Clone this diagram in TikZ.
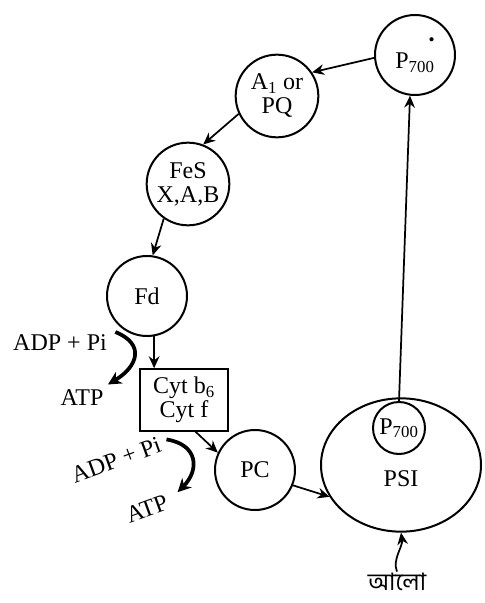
\documentclass[tikz,border=0pt]{standalone}
\usepackage{fontspec}
\setmainfont{Liberation Serif}
\newfontfamily\bengalifont[Script=Bengali]{Hind Siliguri}
\usetikzlibrary{shapes.geometric, arrows.meta, positioning, calc}

\begin{document}
\begin{tikzpicture}[
      x=0.75pt, y=-0.75pt,
      font=\fontsize{18}{18}\selectfont,
      carrier/.style={circle, draw, line width=1.5pt, minimum size=62pt, inner sep=0pt, align=center},
      cytbox/.style={rectangle, draw, line width=1.5pt, minimum width=66pt, minimum height=46pt, inner sep=1pt, align=center},
      photo/.style={ellipse, draw, line width=1.5pt, minimum width=120pt, minimum height=100pt},
      label/.style={inner sep=1pt},
      arrow/.style={-{Stealth[length=9pt, width=8pt]}, line width=1.3pt},
      atparrow/.style={-{Stealth[length=10pt, width=10pt]}, line width=2.8pt}
    ]
    \useasboundingbox (0,0) rectangle (485,603);

    \node[carrier, minimum size=60pt] (p700s) at (415,55) {P\textsubscript{700}\llap{\raisebox{2.1ex}{\fontsize{13}{13}\selectfont\textbullet}}};
    \node[carrier] (aq) at (277,96) {A\textsubscript{1} or\\PQ};
    \node[carrier] (fes) at (188,184) {FeS\\X,A,B};
    \node[carrier, minimum size=60pt] (fd) at (147,296) {Fd};
    \node[cytbox] (cyt) at (184,400) {Cyt b\textsubscript{6}\\Cyt f};
    \node[carrier, minimum size=60pt] (pc) at (255,470) {PC};
    \node[photo] (psi) at (401,465) {};
    \node[carrier, minimum size=39pt] (p700) at (399,428) {P\textsubscript{700}};
    \node[label] (psitext) at (401,479) {PSI};
    \node[label] (light) at (397,582) {\bengalifont আলো};

    \node[label] (adp1) at (60,343) {ADP + Pi};
    \node[label] (atp1) at (82,398) {ATP};
    \node[label, rotate=20] (adp2) at (116,460) {ADP + Pi};
    \node[label, rotate=20] (atp2) at (147,509) {ATP};

    \draw[arrow] (p700s.184) -- (aq.34);
    \draw[arrow] (aq.205) -- (fes.69);
    \draw[arrow] (fes.235) -- (fd.82);
    \draw[arrow] (fd.280) -- (fd.280 |- cyt.north);
    \draw[arrow] (cyt.-70) -- (pc.155);
    \draw[arrow] (pc.-22) -- (psi.204);
    \draw[arrow] (p700.north) -- (p700s.263);
    \draw[arrow] (light.north) .. controls +(-5,-12) and +(2,14) .. (psi.south);

    \draw[atparrow] ([shift={(7,-11)}]adp1.east) .. controls +(30,12) and +(30,-18) .. ([shift={(3,-4)}]atp1.north east);
    \draw[atparrow] ([shift={(5,-4)}]adp2.east) .. controls +(32,5) and +(22,-22) .. ([shift={(9,-9)}]atp2.east);
  \end{tikzpicture}
\end{document}
